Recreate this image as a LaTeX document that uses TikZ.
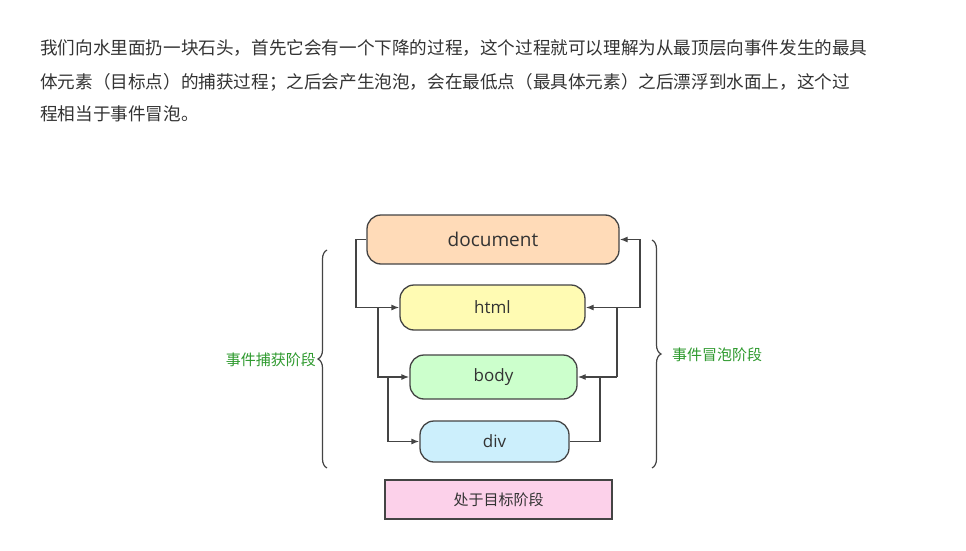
\documentclass[tikz,border=0pt]{standalone}
\usepackage{fontspec}
\setmainfont{Open Sans}
\newfontfamily\cjk{Noto Sans CJK SC}
\usetikzlibrary{arrows.meta,decorations.pathreplacing}
\definecolor{txt}{HTML}{333333}
\definecolor{ln}{HTML}{444444}
\definecolor{grn}{HTML}{2E9A2E}
\tikzset{
  elem/.style={draw=ln,line width=1.3pt,rounded corners=14pt,minimum height=#1,font=\fontsize{17}{20}\selectfont,text=txt,inner sep=0pt},
  conn/.style={draw=ln,line width=1.3pt,-{Latex[length=8pt,width=6pt]}},
  seg/.style={draw=ln,line width=1.3pt},
  brc/.style={draw=ln,line width=1.2pt,decorate,decoration={brace,amplitude=9pt}},
  lbl/.style={font=\cjk\fontsize{15}{17}\selectfont,text=grn,inner sep=0pt}
}
\begin{document}
\begin{tikzpicture}[x=1pt,y=-1pt]
\useasboundingbox (0,0) rectangle (966,551);
\fill[white] (0,0) rectangle (966,551);
\begin{scope}[every node/.style={anchor=west,font=\cjk\fontsize{17.6}{20}\selectfont,text=txt,inner sep=0pt}]
\node (l1) at (40,48) {我们向水里面扔一块石头，首先它会有一个下降的过程，这个过程就可以理解为从最顶层向事件发生的最具};
\node (l2) at (40,82) {体元素（目标点）的捕获过程；之后会产生泡泡，会在最低点（最具体元素）之后漂浮到水面上，这个过};
\node (l3) at (40,114) {程相当于事件冒泡。};
\end{scope}
\node[elem=49pt,minimum width=252pt,fill=orange!28!white,font=\fontsize{19}{22}\selectfont] (doc) at (493,239.5) {document};
\node[elem=45pt,minimum width=185pt,fill=yellow!30!white] (html) at (492.5,307.5) {html};
\node[elem=44pt,minimum width=167pt,fill=green!20!white] (body) at (493.5,377) {body};
\node[elem=41pt,minimum width=149pt,fill=cyan!20!white] (div) at (494.5,441.5) {div};
\node[draw=ln,line width=1.3pt,fill=magenta!18!white,minimum width=227pt,minimum height=39pt,inner sep=0pt,font=\cjk\fontsize{15}{18}\selectfont,text=txt] (tgt) at (498.5,499.5) {处于目标阶段};
% capture
\draw[conn] (doc.west) -- (356,239.5) |- (html.west);
\coordinate (c1) at (378,307.5);
\draw[conn] (c1) |- (body.west);
\coordinate (c2) at (388,377);
\draw[conn] (c2) |- (div.west);
% bubble
\draw[conn] (div.east) -- (600,441.5) |- (body.east);
\coordinate (b1) at (617,377);
\coordinate (b1e) at (600,377);
\draw[seg] (b1) -- (b1e);
\draw[conn] (b1) |- (html.east);
\coordinate (b2) at (640,307.5);
\coordinate (b2e) at (617,307.5);
\draw[seg] (b2) -- (b2e);
\draw[conn] (b2) |- (doc.east);
% braces
\coordinate (lb1) at (327,468); \coordinate (lb2) at (327,250);
\draw[brc] (lb1) -- (lb2);
\coordinate (rb1) at (652,240); \coordinate (rb2) at (652,468);
\draw[brc] (rb1) -- (rb2);
\node[lbl,anchor=east] (cap) at (316,360) {事件捕获阶段};
\node[lbl,anchor=west] (bub) at (672,355) {事件冒泡阶段};
\end{tikzpicture}
\end{document}
